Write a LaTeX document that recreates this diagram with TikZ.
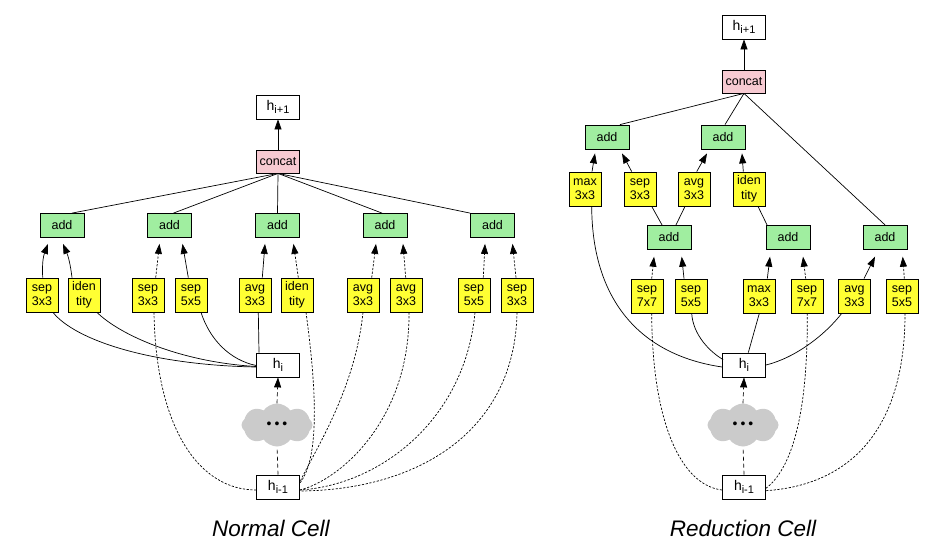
\documentclass[tikz,border=0pt]{standalone}
\usepackage{fontspec}
\setmainfont{Liberation Sans}
\usetikzlibrary{arrows.meta,shapes.symbols,calc}
\definecolor{yel}{HTML}{FFFF33}
\definecolor{grn}{HTML}{A0EEA0}
\definecolor{pnk}{HTML}{F7CAD2}
\definecolor{cld}{HTML}{CBCBCB}
\newcommand\hlab[1]{{\fontsize{14}{14}\selectfont h}\raisebox{-3.5pt}{\fontsize{11}{11}\selectfont #1}}
\newcommand\cloudots{{\fontsize{14}{14}\selectfont\textbullet\hspace{3pt}\textbullet\hspace{3pt}\textbullet}}
\tikzset{
  every node/.style={font=\fontsize{12.5}{14.5}\selectfont},
  basebox/.style={draw, line width=0.8pt, inner sep=0pt, align=center},
  hbox/.style={basebox, fill=white, minimum width=43pt, minimum height=24pt},
  catbox/.style={basebox, fill=pnk, minimum width=43pt, minimum height=23pt},
  addbox/.style={basebox, fill=grn, minimum width=44pt, minimum height=24pt},
  opbox/.style={basebox, fill=yel, minimum width=32pt, minimum height=34pt},
  cloudshape/.style={cloud, cloud puffs=8, cloud puff arc=110, aspect=1.7, fill=cld, draw=none, minimum width=71pt, minimum height=43pt, inner sep=0pt},
  conn/.style={line width=0.7pt},
  arr/.style={conn, -{Triangle[length=10pt,width=7pt]}},
  dsh/.style={dash pattern=on 2.2pt off 1.6pt},
  ldsh/.style={dash pattern=on 4pt off 3pt},
  captext/.style={font=\fontsize{22.5}{27}\selectfont\itshape, inner sep=0pt, anchor=base},
}
\begin{document}
\begin{tikzpicture}[x=1pt,y=-1pt]
\useasboundingbox (0,0) rectangle (925,541);
% ---------------- Normal cell ----------------
\node[hbox] (nhout) at (278,107) {\hlab{i+1}};
\node[catbox] (ncat) at (278,161.5) {concat};
\foreach \n/\x in {na1/62,na2/169.5,na3/277.5,na4/385,na5/492.5}
  \node[addbox] (\n) at (\x,225.5) {add};
\node[opbox] (no1) at (42,295) {sep\\3x3};
\node[opbox] (no2) at (84,295) {iden\\tity};
\node[opbox] (no3) at (148,295) {sep\\3x3};
\node[opbox] (no4) at (191,295) {sep\\5x5};
\node[opbox] (no5) at (255,295) {avg\\3x3};
\node[opbox] (no6) at (297,295) {iden\\tity};
\node[opbox] (no7) at (363,295) {avg\\3x3};
\node[opbox] (no8) at (406,295) {avg\\3x3};
\node[opbox] (no9) at (474,295) {sep\\5x5};
\node[opbox] (no10) at (517,295) {sep\\3x3};
\node[hbox] (nhi) at (278,365) {\hlab{i}};
\node[cloudshape] (ncloud) at (277,425) {\cloudots};
\node[hbox] (nhprev) at (278,487) {\hlab{i-1}};
\node[captext] (ncap) at (271,536.5) {Normal Cell};

\draw[arr] (ncat) -- (nhout);
\draw[conn] (ncat.south) -- ($(na1.north)+(10,0)$);
\draw[conn] (ncat.south) -- ($(na2.north)+(4,0)$);
\draw[conn] (ncat.south) -- (na3.north);
\draw[conn] (ncat.south) -- ($(na4.north)+(-3,0)$);
\draw[conn] (ncat.south) -- (na5.north west);

\draw[arr] ($(no1.north)+(0.7,0)$) to[bend left=12] ($(na1.south)+(-14,6)$);
\draw[arr] ($(no2.north)+(-12,0)$) to[bend right=8] ($(na1.south)+(1,6)$);
\draw[arr,dsh] ($(no3.north)+(7.7,0)$) -- ($(na2.south)+(-10,6)$);
\draw[arr] ($(no4.north)+(-2.7,0)$) -- ($(na2.south)+(13,6)$);
\draw[arr] ($(no5.north)+(7.3,0)$) -- ($(na3.south)+(-12.5,6)$);
\draw[arr,dsh] ($(no6.north)+(1.3,0)$) -- ($(na3.south)+(16,6)$);
\draw[arr,dsh] ($(no7.north)+(8.7,0)$) -- ($(na4.south)+(-9,6)$);
\draw[arr,dsh] ($(no8.north)+(-0.3,0)$) -- ($(na4.south)+(18,6)$);
\draw[arr,dsh] ($(no9.north)+(9.3,0)$) -- ($(na5.south)+(-7.5,6)$);
\draw[arr,dsh] ($(no10.north)+(-1,0)$) -- ($(na5.south)+(20,6)$);

\draw[conn] ($(no1.south)+(11,0)$) .. controls (75,340) and (150,365) .. ($(nhi.west)+(0,2)$);
\draw[conn] ($(no2.south)+(13,0)$) .. controls (120,335) and (180,362) .. ($(nhi.west)+(0,1.5)$);
\draw[conn] ($(no4.south)+(10,0)$) .. controls (210,340) and (230,360) .. ($(nhi.west)+(0,0.5)$);
\draw[conn] ($(no5.south)+(3.3,0)$) -- ($(nhi.north)+(-19,0)$);

\draw[conn,dsh] ($(no3.south)+(6,0)$) .. controls (156,430) and (200,490) .. ($(nhprev.west)+(0,3)$);
\draw[conn,dsh] ($(no6.south)+(9,0)$) .. controls (318,400) and (318,460) .. ($(nhprev.east)+(0,-4)$);
\draw[conn,dsh] (no7.south) .. controls (355,390) and (315,450) .. ($(nhprev.east)+(0,-5)$);
\draw[conn,dsh] ($(no8.south)+(3,0)$) .. controls (410,420) and (340,480) .. ($(nhprev.east)+(0,3)$);
\draw[conn,dsh] ($(no9.south)+(1,0)$) .. controls (465,420) and (380,485) .. ($(nhprev.east)+(0,3)$);
\draw[conn,dsh] (no10.south) .. controls (515,430) and (420,490) .. ($(nhprev.east)+(0,4)$);

\draw[conn,ldsh] (nhprev.north) -- (ncloud.south);
\draw[arr,ldsh] (ncloud.north) -- (nhi.south);

% ---------------- Reduction cell ----------------
\node[hbox] (rhout) at (744,27) {\hlab{i+1}};
\node[catbox] (rcat) at (744,81.5) {concat};
\node[addbox] (ra1) at (607,137) {add};
\node[addbox] (ra2) at (723,137) {add};
\node[opbox] (ro1) at (585,189) {max\\3x3};
\node[opbox] (ro2) at (640,189) {sep\\3x3};
\node[opbox] (ro3) at (694,189) {avg\\3x3};
\node[opbox] (ro4) at (749,189) {iden\\tity};
\node[addbox] (ra3) at (669,237.3) {add};
\node[addbox] (ra4) at (788,237.3) {add};
\node[addbox] (ra5) at (885,237.3) {add};
\node[opbox] (ro5) at (647,296) {sep\\7x7};
\node[opbox] (ro6) at (691,296) {sep\\5x5};
\node[opbox] (ro7) at (759,296) {max\\3x3};
\node[opbox] (ro8) at (807,296) {sep\\7x7};
\node[opbox] (ro9) at (854.5,296) {avg\\3x3};
\node[opbox] (ro10) at (902,296) {sep\\5x5};
\node[hbox] (rhi) at (744,365) {\hlab{i}};
\node[cloudshape] (rcloud) at (743,425) {\cloudots};
\node[hbox] (rhprev) at (744,487) {\hlab{i-1}};
\node[captext] (rcap) at (743,536.5) {Reduction Cell};

\draw[arr] (rcat) -- (rhout);
\draw[conn] (rcat.south) -- ($(ra1.north)+(13,0)$);
\draw[conn] (rcat.south) -- ($(ra2.north)+(2,0)$);
\draw[conn] (rcat.south) -- (ra5.north);

\draw[arr] ($(ro1.north)+(7,0)$) -- ($(ra1.south)+(-12,4)$);
\draw[arr] ($(ro2.north)+(-8.3,0)$) -- ($(ra1.south)+(15,4)$);
\draw[arr] ($(ro3.north)+(2.7,0)$) -- ($(ra2.south)+(-16,4)$);
\draw[arr] ($(ro4.north)+(-5.7,0)$) -- ($(ra2.south)+(19,4)$);

\draw[conn] ($(ra3.north)+(-7,0)$) -- ($(ro2.south)+(11.7,0)$);
\draw[conn] ($(ra3.north)+(7,0)$) -- ($(ro3.south)+(-9,0)$);
\draw[conn] ($(ra4.north)+(-21,0)$) -- ($(ro4.south)+(9,0)$);

\draw[arr,dsh] ($(ro5.north)+(4.7,0)$) -- ($(ra3.south)+(-15,7)$);
\draw[arr] ($(ro6.north)+(-7,0)$) -- ($(ra3.south)+(12.7,7)$);
\draw[arr] ($(ro7.north)+(8.3,0)$) -- ($(ra4.south)+(-18,7)$);
\draw[arr,dsh] ($(ro8.north)+(-1.3,0)$) -- ($(ra4.south)+(15,7)$);
\draw[arr] ($(ro9.north)+(9.5,0)$) -- ($(ra5.south)+(-10,7)$);
\draw[arr,dsh] ($(ro10.north)+(2.3,0)$) -- ($(ra5.south)+(17.7,7)$);

\draw[conn] ($(ro1.south)+(6.7,0)$) .. controls (592,300) and (640,355) .. ($(rhi.west)+(0,2)$);
\draw[conn,dsh] ($(ro5.south)+(4.7,0)$) .. controls (652,420) and (680,485) .. ($(rhprev.west)+(0,3)$);
\draw[conn] ($(ro6.south)+(0.7,0)$) .. controls (693,335) and (710,352) .. ($(rhi.north west)+(1,7)$);
\draw[conn] ($(ro7.south)+(0.3,0)$) -- ($(rhi.north)+(4.3,0)$);
\draw[conn,dsh] ($(ro8.south)+(0.3,0)$) .. controls (808,420) and (790,470) .. ($(rhprev.east)+(0,1.3)$);
\draw[conn] ($(ro9.south)+(-12.8,0)$) .. controls (825,335) and (795,358) .. (rhi.east);
\draw[conn,dsh] ($(ro10.south)+(3,0)$) .. controls (905,430) and (850,485) .. ($(rhprev.east)+(0,3.7)$);

\draw[conn,ldsh] (rhprev.north) -- (rcloud.south);
\draw[arr,ldsh] (rcloud.north) -- (rhi.south);
\end{tikzpicture}
\end{document}
